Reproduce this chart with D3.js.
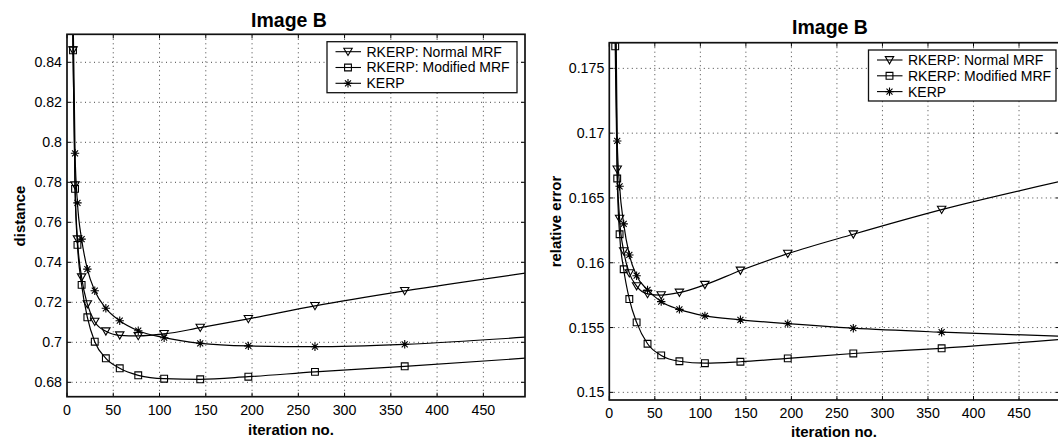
<!DOCTYPE html>
<html>
<head>
<meta charset="utf-8">
<script src="https://d3js.org/d3.v7.min.js"></script>
<style>
  body { margin: 0; background: #fff; }
  svg { display: block; font-family: "Liberation Sans", Arial, Helvetica, sans-serif; }
  .grid line { stroke: #444; stroke-width: 1; stroke-dasharray: 1,3.5; }
  .series { fill: none; stroke: #000; stroke-width: 1.2; }
  .marker { fill: none; stroke: #000; stroke-width: 1.1; }
</style>
</head>
<body>
<svg id="chart"></svg>
<script>
// Data (iteration number -> value)
var iterations = [4, 6.5, 8.7, 11.3, 15.8, 22, 30, 42, 57, 77, 105, 144, 196, 268, 365, 497];

var distNormal   = [0.95, 0.846, 0.7785, 0.7515, 0.7325, 0.7191, 0.7103, 0.7055, 0.7035, 0.7032, 0.7042, 0.7073, 0.7117, 0.7182, 0.7257, 0.7347];
var distModified = [0.95, 0.846, 0.7767, 0.7487, 0.7287, 0.7125, 0.7003, 0.6920, 0.6870, 0.6835, 0.6818, 0.6815, 0.6828, 0.6852, 0.6880, 0.6921];
var distKerp     = [0.98, 0.870, 0.7945, 0.7697, 0.7516, 0.7366, 0.7258, 0.7170, 0.7108, 0.7058, 0.7023, 0.6995, 0.6982, 0.6978, 0.6990, 0.7026];

var errNormal   = [0.19, 0.180, 0.1672, 0.1634, 0.1609, 0.1592, 0.1582, 0.1576, 0.1575, 0.1577, 0.1583, 0.1594, 0.1607, 0.1622, 0.1641, 0.1663];
var errModified = [0.19, 0.1767, 0.1665, 0.1622, 0.1595, 0.1572, 0.1554, 0.15375, 0.15285, 0.1524, 0.15225, 0.15236, 0.15262, 0.1530, 0.1534, 0.1541];
var errKerp     = [0.20, 0.185, 0.1694, 0.1659, 0.1630, 0.1606, 0.1590, 0.1579, 0.1570, 0.1564, 0.1559, 0.1556, 0.1553, 0.15495, 0.15464, 0.15433];

var seriesNames = ["RKERP: Normal MRF", "RKERP: Modified MRF", "KERP"];
var markerTypes = ["triangle", "square", "star"];

var xTicks = [0, 50, 100, 150, 200, 250, 300, 350, 400, 450];
var distTicks = [0.68, 0.70, 0.72, 0.74, 0.76, 0.78, 0.80, 0.82, 0.84];
var distTickLabels = ["0.68", "0.7", "0.72", "0.74", "0.76", "0.78", "0.8", "0.82", "0.84"];
var errTicks = [0.15, 0.155, 0.16, 0.165, 0.17, 0.175];
var errTickLabels = ["0.15", "0.155", "0.16", "0.165", "0.17", "0.175"];

var width = 1058;
var height = 441;

var svg = d3.select("#chart")
    .attr("width", width)
    .attr("height", height);

// marker shapes
var markerPath = {
  triangle: "M-4.2,-3.4L4.2,-3.4L0,3.8Z",
  square: "M-3.4,-3.4H3.4V3.4H-3.4Z",
  star: "M-4.2,0H4.2M0,-4.2V4.2M-3,-3L3,3M-3,3L3,-3"
};

function drawPanel(p) {
  var x = d3.scaleLinear().domain(p.xDomain).range([p.left, p.right]);
  var y = d3.scaleLinear().domain(p.yDomain).range([p.bottom, p.top]);
  var g = svg.append("g").attr("id", p.id);

  // clip
  g.append("clipPath").attr("id", p.id + "-clip")
    .append("rect")
      .attr("x", p.left).attr("y", p.top)
      .attr("width", p.right - p.left).attr("height", p.bottom - p.top);

  // grid
  var grid = g.append("g").attr("class", "grid");
  grid.selectAll("line.gx")
    .data(xTicks.filter(function(t) { return t > p.xDomain[0]; }))
    .enter().append("line")
      .attr("class", "gx")
      .attr("x1", d => x(d)).attr("x2", d => x(d))
      .attr("y1", p.top).attr("y2", p.bottom);
  grid.selectAll("line.gy")
    .data(p.yTicks)
    .enter().append("line")
      .attr("class", "gy")
      .attr("x1", p.left).attr("x2", p.right)
      .attr("y1", d => y(d)).attr("y2", d => y(d));

  // series
  var line = d3.line()
    .x(d => x(d[0]))
    .y(d => y(d[1]))
    .curve(d3.curveMonotoneX);

  var plot = g.append("g").attr("clip-path", "url(#" + p.id + "-clip)");
  p.series.forEach(function(vals, i) {
    var pts = iterations.map((it, k) => [it, vals[k]]);
    plot.append("path")
      .datum(pts)
      .attr("class", "series")
      .attr("d", line);
    var inside = pts.filter(d => d[0] >= p.xDomain[0] && d[0] <= p.xDomain[1] &&
                                 d[1] >= p.yDomain[0] && d[1] <= p.yDomain[1]);
    g.selectAll("path.m" + i)
      .data(inside)
      .enter().append("path")
        .attr("class", "marker m" + i)
        .attr("transform", d => "translate(" + x(d[0]) + "," + y(d[1]) + ")")
        .attr("d", markerPath[markerTypes[i]]);
  });

  // ticks on all four sides (inward)
  var tl = 4;
  var ticks = g.append("g").attr("stroke", "#000").attr("stroke-width", 1);
  xTicks.forEach(function(t) {
    ticks.append("line").attr("x1", x(t)).attr("x2", x(t)).attr("y1", p.bottom).attr("y2", p.bottom - tl);
    ticks.append("line").attr("x1", x(t)).attr("x2", x(t)).attr("y1", p.top).attr("y2", p.top + tl);
  });
  p.yTicks.forEach(function(t) {
    ticks.append("line").attr("x1", p.left).attr("x2", p.left + tl).attr("y1", y(t)).attr("y2", y(t));
    ticks.append("line").attr("x1", p.right).attr("x2", p.right - tl).attr("y1", y(t)).attr("y2", y(t));
  });

  // box
  g.append("rect")
    .attr("x", p.left).attr("y", p.top)
    .attr("width", p.right - p.left).attr("height", p.bottom - p.top)
    .attr("fill", "none").attr("stroke", "#111").attr("stroke-width", 1.7);

  // tick labels
  g.selectAll("text.xt")
    .data(xTicks)
    .enter().append("text")
      .attr("class", "xt")
      .attr("x", d => x(d))
      .attr("y", p.bottom + 18)
      .attr("text-anchor", "middle")
      .attr("font-size", "14.2px")
      .text(d => d);
  g.selectAll("text.yt")
    .data(p.yTicks)
    .enter().append("text")
      .attr("class", "yt")
      .attr("x", p.left - 5)
      .attr("y", d => y(d))
      .attr("dy", "0.36em")
      .attr("text-anchor", "end")
      .attr("font-size", "14.2px")
      .text((d, i) => p.yTickLabels[i]);

  // title and axis labels
  g.append("text")
    .attr("x", p.titleX).attr("y", p.titleY)
    .attr("text-anchor", "middle")
    .attr("font-size", "19.5px").attr("font-weight", "bold")
    .text("Image B");
  g.append("text")
    .attr("x", p.xLabelX).attr("y", p.xLabelY)
    .attr("text-anchor", "middle")
    .attr("font-size", "15px").attr("font-weight", "bold")
    .text("iteration no.");
  g.append("text")
    .attr("transform", "translate(" + p.yLabelX + "," + p.yLabelY + ") rotate(-90)")
    .attr("text-anchor", "middle")
    .attr("font-size", "15px").attr("font-weight", "bold")
    .text(p.yLabel);

  // legend
  var lg = g.append("g").attr("transform", "translate(" + p.legend[0] + "," + p.legend[1] + ")");
  lg.append("rect")
    .attr("width", p.legend[2]).attr("height", 51)
    .attr("fill", "#fff").attr("stroke", "#111").attr("stroke-width", 1.3);
  seriesNames.forEach(function(name, i) {
    var ry = 10 + i * 15.8;
    lg.append("line")
      .attr("x1", 8.5).attr("x2", 34)
      .attr("y1", ry).attr("y2", ry)
      .attr("stroke", "#000").attr("stroke-width", 1.1);
    lg.append("path")
      .attr("class", "marker")
      .attr("transform", "translate(21," + ry + ")")
      .attr("d", markerPath[markerTypes[i]]);
    lg.append("text")
      .attr("x", 39.5).attr("y", ry + 5)
      .attr("font-size", "14px")
      .text(name);
  });
}

drawPanel({
  id: "dist",
  left: 67, right: 525, top: 34.3, bottom: 396.7,
  xDomain: [0, 495], yDomain: [0.6728, 0.854],
  yTicks: distTicks, yTickLabels: distTickLabels,
  series: [distNormal, distModified, distKerp],
  titleX: 289, titleY: 26.5,
  xLabelX: 291, xLabelY: 435,
  yLabelX: 25, yLabelY: 216, yLabel: "distance",
  legend: [327, 41.7, 190]
});

drawPanel({
  id: "err",
  left: 609.3, right: 1060, top: 42.7, bottom: 400,
  xDomain: [0, 495], yDomain: [0.14941, 0.17698],
  yTicks: errTicks, yTickLabels: errTickLabels,
  series: [errNormal, errModified, errKerp],
  titleX: 830, titleY: 33.5,
  xLabelX: 834, xLabelY: 436.5,
  yLabelX: 561, yLabelY: 221.5, yLabel: "relative error",
  legend: [868.5, 50, 187.5]
});
</script>
</body>
</html>
